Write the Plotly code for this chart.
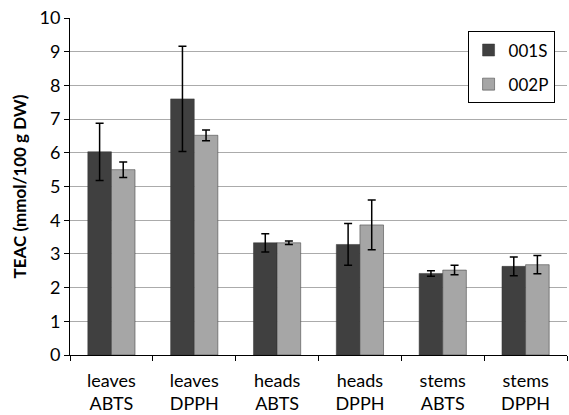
import plotly.graph_objects as go

# Antioxidant capacity (TEAC) per plant part and assay
categories = ["leaves<br>ABTS", "leaves<br>DPPH", "heads<br>ABTS", "heads<br>DPPH", "stems<br>ABTS", "stems<br>DPPH"]
series_names = ["001S", "002P"]
teac_001s = [6.03, 7.60, 3.33, 3.28, 2.42, 2.63]
err_001s = [0.85, 1.56, 0.27, 0.62, 0.08, 0.28]
teac_002p = [5.50, 6.52, 3.33, 3.86, 2.52, 2.68]
err_002p = [0.23, 0.16, 0.05, 0.74, 0.14, 0.27]
y_ticks = [0, 1, 2, 3, 4, 5, 6, 7, 8, 9, 10]

font_family = "Lato, Carlito, Calibri, sans-serif"

fig = go.Figure()
for name, vals, errs, color in [
    (series_names[0], teac_001s, err_001s, "#404040"),
    (series_names[1], teac_002p, err_002p, "#a6a6a6"),
]:
    fig.add_trace(go.Bar(
        name=name,
        legendgroup=name,
        x=categories,
        y=vals,
        marker=dict(color=color, line=dict(color="#333333", width=0.5)),
        error_y=dict(type="data", array=errs, visible=True,
                     color="black", thickness=1.5, width=4),
    ))

fig.update_layout(
    width=569, height=415,
    margin=dict(l=70, r=2, t=18, b=60),
    paper_bgcolor="white", plot_bgcolor="white",
    barmode="group", bargap=0.43, bargroupgap=0,
    font=dict(family=font_family, color="black", size=17),
    showlegend=True,
    legend=dict(
        x=0.975, y=0.96, xanchor="right", yanchor="top",
        bordercolor="black", borderwidth=1, bgcolor="white",
        font=dict(size=17), tracegroupgap=9, itemwidth=30,
    ),
    xaxis=dict(
        showline=True, linecolor="black", linewidth=1,
        ticks="outside", tickson="boundaries", ticklen=5, tickcolor="black",
        tickfont=dict(size=18), showgrid=False, ticklabelstandoff=9,
    ),
    yaxis=dict(
        range=[0, 10], tickvals=y_ticks, showline=True, linecolor="black", linewidth=1,
        ticks="outside", ticklen=5, tickcolor="black",
        showgrid=True, gridcolor="#ababab", gridwidth=1.3,
        tickfont=dict(size=18),
        title=dict(text="<b>TEAC (mmol/100 g DW)</b>", font=dict(size=17), standoff=8),
    ),
)

fig.write_html("out.html")
